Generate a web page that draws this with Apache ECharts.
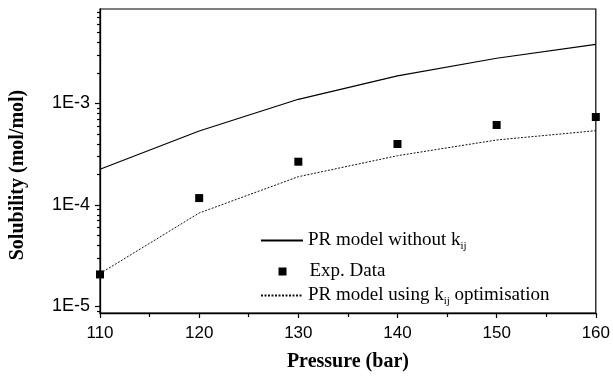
<!DOCTYPE html>
<html>
<head>
<meta charset="utf-8">
<script src="https://cdn.jsdelivr.net/npm/echarts@6/dist/echarts.min.js"></script>
<style>
  html, body { margin: 0; padding: 0; background: #fff; }
  #chart { width: 613px; height: 378px; }
</style>
</head>
<body>
<div id="chart"></div>
<script>
  // 数据
  var pressure = [110, 120, 130, 140, 150, 160];
  var prNoKij = [2.25e-4, 5.36e-4, 1.10e-3, 1.87e-3, 2.79e-3, 3.83e-3];
  var expData = [2.07e-5, 1.17e-4, 2.67e-4, 3.99e-4, 6.14e-4, 7.36e-4];
  var prKij = [2.11e-5, 8.34e-5, 1.90e-4, 3.06e-4, 4.37e-4, 5.40e-4];
  var yMajor = [1e-5, 1e-4, 1e-3];
  var yMinor = [9e-6,
    2e-5, 3e-5, 4e-5, 5e-5, 6e-5, 7e-5, 8e-5, 9e-5,
    2e-4, 3e-4, 4e-4, 5e-4, 6e-4, 7e-4, 8e-4, 9e-4,
    2e-3, 3e-3, 4e-3, 5e-3, 6e-3, 7e-3, 8e-3];

  function pairs(ys) {
    return pressure.map(function (x, i) { return [x, ys[i]]; });
  }

  var chart = echarts.init(document.getElementById('chart'));
  var yMin = 8.63e-6, yMax = 8.53e-3;
  var serif = '"Liberation Serif", "Times New Roman", serif';
  var sans = '"Liberation Sans", Arial, sans-serif';

  var legendText = {
    fontFamily: serif, fontSize: 19, color: '#000',
    rich: {
      t: { fontFamily: serif, fontSize: 19, color: '#000' },
      s: { fontFamily: serif, fontSize: 11, color: '#000', padding: [12, 0, 0, 0] }
    }
  };

  var option = {
    animation: false,
    grid: {
      left: 98, right: 15, top: 9, bottom: 65,
      show: true, borderColor: '#000', borderWidth: 1.2
    },
    legend: [
      {
        data: ['PR model without kij'], left: 260, top: 231, orient: 'vertical', padding: 0,
        itemWidth: 42, itemHeight: 14, selectedMode: false,
        itemStyle: { opacity: 0 },
        formatter: function () { return '{t|PR model without k}{s|ij}'; },
        textStyle: legendText
      },
      {
        data: ['Exp. Data'], left: 278.5, top: 262, orient: 'vertical', padding: 0,
        itemWidth: 8, itemHeight: 8, selectedMode: false, icon: 'rect',
        itemStyle: { opacity: 1 },
        textStyle: { fontFamily: serif, fontSize: 19, color: '#000', padding: [0, 0, 0, 18] }
      },
      {
        data: ['PR model using kij optimisation'], left: 260, top: 286, orient: 'vertical', padding: 0,
        itemWidth: 42, itemHeight: 14, selectedMode: false,
        itemStyle: { opacity: 0 },
        formatter: function () { return '{t|PR model using k}{s|ij}{t| optimisation}'; },
        textStyle: legendText
      }
    ],
    xAxis: {
      type: 'value', min: 110, max: 160, interval: 10,
      name: 'Pressure (bar)', nameLocation: 'middle', nameGap: 39,
      nameTextStyle: { fontFamily: serif, fontWeight: 'bold', fontSize: 20, color: '#000' },
      axisLine: { lineStyle: { color: '#000', width: 1.3 } },
      axisTick: { inside: false, length: 5, lineStyle: { color: '#000', width: 1.2 } },
      minorTick: { show: true, splitNumber: 2, length: 4, lineStyle: { color: '#000', width: 1.2 } },
      axisLabel: { fontFamily: sans, fontSize: 17, color: '#000', margin: 12 },
      splitLine: { show: false }
    },
    yAxis: [
      {
        type: 'log', logBase: 10, min: yMin, max: yMax,
        name: 'Solubility (mol/mol)', nameLocation: 'middle', nameGap: 72,
        nameTextStyle: { fontFamily: serif, fontWeight: 'bold', fontSize: 20, color: '#000', padding: [0, 28, 0, 0] },
        axisLine: { lineStyle: { color: '#000', width: 1.3 } },
        axisTick: { length: 5, customValues: yMajor, lineStyle: { color: '#000', width: 1.2 } },
        axisLabel: {
          fontFamily: sans, fontSize: 18, color: '#000', margin: 10,
          customValues: yMajor,
          formatter: function (v) { return '1E' + Math.round(Math.log10(v)); }
        },
        splitLine: { show: false }
      },
      {
        type: 'log', logBase: 10, min: yMin, max: yMax, position: 'left',
        axisLine: { show: false },
        axisTick: { length: 3, customValues: yMinor, lineStyle: { color: '#000', width: 1.2 } },
        axisLabel: { show: false },
        splitLine: { show: false }
      }
    ],
    series: [
      {
        name: 'PR model without kij', type: 'line', data: pairs(prNoKij),
        symbol: 'none', lineStyle: { color: '#000', width: 1.2 }, itemStyle: { color: '#000' }
      },
      {
        name: 'Exp. Data', type: 'scatter', data: pairs(expData),
        symbol: 'rect', symbolSize: 8, itemStyle: { color: '#000', opacity: 1 }
      },
      {
        name: 'PR model using kij optimisation', type: 'line', data: pairs(prKij),
        symbol: 'none', lineStyle: { color: '#111', width: 1, type: [2, 1.5] }, itemStyle: { color: '#111' }
      }
    ]
  };
  option && chart.setOption(option);
</script>
</body>
</html>
